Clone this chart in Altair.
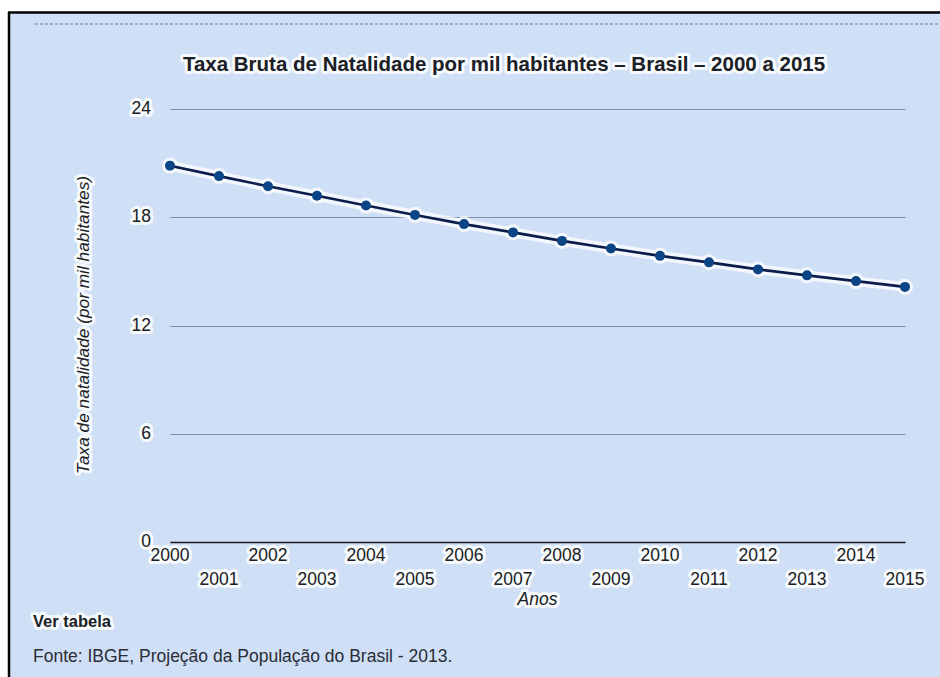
import altair as alt
import pandas as pd

# Crude birth rate per thousand inhabitants, Brazil 2000-2015
years = [2000, 2001, 2002, 2003, 2004, 2005, 2006, 2007,
         2008, 2009, 2010, 2011, 2012, 2013, 2014, 2015]
rates = [20.86, 20.28, 19.72, 19.19, 18.65, 18.13, 17.62, 17.16,
         16.69, 16.27, 15.86, 15.50, 15.11, 14.78, 14.46, 14.14]
y_ticks = [0, 6, 12, 18, 24]

title_text = "Taxa Bruta de Natalidade por mil habitantes \u2013 Brasil \u2013 2000 a 2015"
y_title = "Taxa de natalidade (por mil habitantes)"
x_title = "Anos"
link_text = "Ver tabela"
source_text = "Fonte: IBGE, Projeção da População do Brasil - 2013."

FONT = "Liberation Sans"
BG = "#cfdff6"
TXT = "#1c1f27"
W, H = 735, 433
PAD_L, PAD_T, PAD_R, PAD_B = 170, 109, 35, 135

df = pd.DataFrame({"ano": years, "taxa": rates})
ticks_df = pd.DataFrame({"v": y_ticks})
one = pd.DataFrame({"k": [0]})

x_scale = alt.Scale(domain=[2000, 2015], nice=False, zero=False)
y_scale = alt.Scale(domain=[0, 24], nice=False)

x_enc = alt.X("ano:Q", scale=x_scale,
              axis=alt.Axis(title=None, labels=False, ticks=False, grid=False,
                            domain=True, domainColor="#1a1a1a", domainWidth=1.6))
y_enc = alt.Y("taxa:Q", scale=y_scale,
              axis=alt.Axis(title=None, labels=False, ticks=False, domain=False,
                            grid=True, gridColor="#7f8eab", gridWidth=1.2,
                            values=y_ticks))

base = alt.Chart(df)


def px(v, origin):
    return alt.value(v - origin)


def halo_text(chart_text, **kw):
    """Text drawn twice: a soft white outline under the dark glyphs."""
    halo = chart_text.mark_text(stroke="white", strokeWidth=6, strokeOpacity=0.85,
                                strokeJoin="round", **kw)
    front = chart_text.mark_text(**kw)
    return [halo, front]


# white margins and black frame around the panel
top_white = alt.Chart(one).mark_rect(color="white").encode(
    x=px(0, PAD_L), x2=px(940, PAD_L), y=px(0, PAD_T), y2=px(12, PAD_T))
left_white = alt.Chart(one).mark_rect(color="white").encode(
    x=px(0, PAD_L), x2=px(8, PAD_L), y=px(0, PAD_T), y2=px(677, PAD_T))
frame_top = alt.Chart(one).mark_rule(color="#000000", strokeWidth=2.5).encode(
    x=px(8, PAD_L), x2=px(940, PAD_L), y=px(12.5, PAD_T))
frame_left = alt.Chart(one).mark_rule(color="#000000", strokeWidth=2.5).encode(
    x=px(9, PAD_L), y=px(12, PAD_T), y2=px(677, PAD_T))
dashed = alt.Chart(one).mark_rule(color="#8f9cb0", strokeWidth=1.4,
                                  strokeDash=[3, 2]).encode(
    x=px(35, PAD_L), x2=px(940, PAD_L), y=px(24, PAD_T))

# data line with a white glow behind it
glow_line = base.mark_line(color="white", strokeWidth=10, opacity=0.75,
                           strokeJoin="round", strokeCap="round").encode(x=x_enc, y=y_enc)
line = base.mark_line(color="#0b1c4a", strokeWidth=2.6).encode(x=x_enc, y=y_enc)
glow_pts = base.mark_circle(color="white", size=260, opacity=0.75).encode(x=x_enc, y=y_enc)
pts = base.mark_circle(color="#0c4585", size=100, opacity=1).encode(x=x_enc, y=y_enc)

# y tick labels placed through the y scale
ylab_src = alt.Chart(ticks_df).encode(
    x=alt.value(-19),
    y=alt.Y("v:Q", scale=y_scale),
    text=alt.Text("v:Q"),
)
ylab = halo_text(ylab_src, align="right", baseline="middle", font=FONT,
                 fontSize=17.5, color=TXT)

# x tick labels, alternating rows for even and odd years
even_src = base.transform_filter("datum.ano % 2 == 0").encode(
    x=alt.X("ano:Q", scale=x_scale), y=alt.value(555.5 - PAD_T), text=alt.Text("ano:Q", format="d"))
odd_src = base.transform_filter("datum.ano % 2 == 1").encode(
    x=alt.X("ano:Q", scale=x_scale), y=alt.value(579.5 - PAD_T), text=alt.Text("ano:Q", format="d"))
even_lab = halo_text(even_src, align="center", baseline="middle", font=FONT,
                     fontSize=17.5, color=TXT)
odd_lab = halo_text(odd_src, align="center", baseline="middle", font=FONT,
                    fontSize=17.5, color=TXT)

# titles and footer
title_src = alt.Chart(one).encode(x=px(504, PAD_L), y=px(65, PAD_T), text=alt.value(title_text))
title = halo_text(title_src, align="center", baseline="middle", font=FONT,
                  fontSize=20.5, fontWeight="bold", color=TXT)

ytitle_src = alt.Chart(one).encode(x=px(84, PAD_L), y=px(325, PAD_T), text=alt.value(y_title))
ytitle = halo_text(ytitle_src, align="center", baseline="middle", angle=270, font=FONT,
                   fontSize=17.3, fontStyle="italic", color=TXT)

xtitle_src = alt.Chart(one).encode(x=px(537.5, PAD_L), y=px(600, PAD_T), text=alt.value(x_title))
xtitle = halo_text(xtitle_src, align="center", baseline="middle", font=FONT,
                   fontSize=17.5, fontStyle="italic", color=TXT)

link_src = alt.Chart(one).encode(x=px(33, PAD_L), y=px(622, PAD_T), text=alt.value(link_text))
link = halo_text(link_src, align="left", baseline="middle", font=FONT,
                 fontSize=16.5, fontWeight="bold", color=TXT)

source = alt.Chart(one).mark_text(align="left", baseline="middle", font=FONT,
                                  fontSize=17.5, color="#2a2d35").encode(
    x=px(33, PAD_L), y=px(657, PAD_T), text=alt.value(source_text))

layers = [top_white, left_white, frame_top, frame_left, dashed,
          glow_line, glow_pts, line, pts]
layers += ylab + even_lab + odd_lab + title + ytitle + xtitle + link + [source]

chart = alt.layer(*layers).properties(
    width=W, height=H,
    autosize=alt.AutoSizeParams(type="none"),
    padding={"left": PAD_L, "top": PAD_T, "right": PAD_R, "bottom": PAD_B},
    background=BG,
).configure_view(stroke=None)

chart.save("out.html", embed_options={"renderer": "svg", "actions": False})
